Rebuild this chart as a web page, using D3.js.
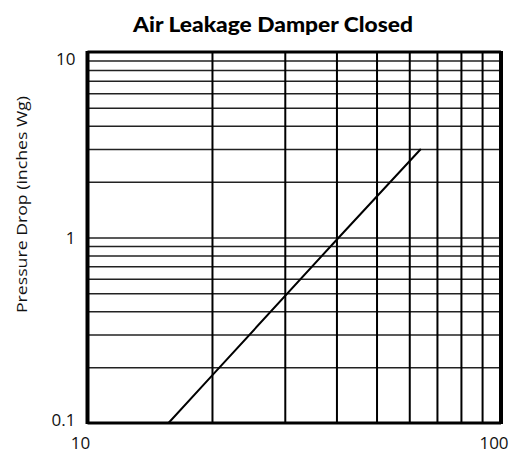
<!DOCTYPE html>
<html>
<head>
<meta charset="utf-8">
<script src="https://cdn.jsdelivr.net/npm/d3@7/dist/d3.min.js"></script>
<style>
  html, body { margin: 0; padding: 0; background: #fff; }
  svg { display: block; }
</style>
</head>
<body>
<script>
// Leakage curve: airflow (cfm) vs pressure drop (in. w.g.)
const flow = [15.7, 20, 40, 64];
const pressure = [0.1, 0.18, 0.97, 3.0];

// Axis labels and grid positions
const xTickLabels = [10, 100];
const yTickLabels = [0.1, 1, 10];
const xGrid = [20, 30, 40, 50, 60, 70, 80, 90];
const yGrid = [0.2, 0.3, 0.4, 0.5, 0.6, 0.7, 0.8, 0.9, 1, 2, 3, 4, 5, 6, 7, 8, 9];

const W = 513, H = 457;
const m = { left: 87.5, right: 12, top: 52, bottom: 34 };
const iw = W - m.left - m.right, ih = H - m.top - m.bottom;

const svg = d3.select("body").append("svg").attr("width", W).attr("height", H);

const x = d3.scaleLog().domain([10, 100]).range([0, iw]);
const y = d3.scaleLog().domain([0.1, 10]).range([ih, 0]);

const g = svg.append("g").attr("transform", `translate(${m.left},${m.top})`);

// Horizontal grid
g.append("g")
  .call(d3.axisLeft(y).tickValues(yGrid).tickSize(-iw).tickFormat(""))
  .call(s => s.select(".domain").remove())
  .call(s => s.selectAll("line").attr("stroke", "#222").attr("stroke-width", 1.5));

// Vertical grid
g.append("g")
  .attr("transform", `translate(0,${ih})`)
  .call(d3.axisBottom(x).tickValues(xGrid).tickSize(-ih).tickFormat(""))
  .call(s => s.select(".domain").remove())
  .call(s => s.selectAll("line").attr("stroke", "#000").attr("stroke-width", 2));

// Frame
g.append("line").attr("x1", 0).attr("x2", 0).attr("y1", -1).attr("y2", ih + 1).attr("stroke", "#000").attr("stroke-width", 4);
g.append("line").attr("x1", iw).attr("x2", iw).attr("y1", -1).attr("y2", ih + 1).attr("stroke", "#000").attr("stroke-width", 4);
g.append("line").attr("x1", 0).attr("x2", iw).attr("y1", 0).attr("y2", 0).attr("stroke", "#000").attr("stroke-width", 3);
g.append("line").attr("x1", 0).attr("x2", iw).attr("y1", ih).attr("y2", ih).attr("stroke", "#000").attr("stroke-width", 3);

// Data line
const pts = flow.map((f, i) => [f, pressure[i]]);
g.append("path")
  .datum(pts)
  .attr("fill", "none")
  .attr("stroke", "#000")
  .attr("stroke-width", 2)
  .attr("d", d3.line().x(d => x(d[0])).y(d => y(d[1])));

// Tick labels (end labels nudged inward toward the plot)
const labFont = "'Open Sans', 'Liberation Sans', sans-serif";
const yNudge = v => v === 10 ? 7 : (v === 0.1 ? -3.5 : 0);
g.append("g").selectAll("text").data(yTickLabels).join("text")
  .attr("x", -12).attr("y", d => y(d) + yNudge(d)).attr("dy", "0.36em")
  .attr("text-anchor", "end")
  .attr("font-family", labFont).attr("font-size", 17).attr("fill", "#111")
  .text(d => d);

g.append("g").selectAll("text").data(xTickLabels).join("text")
  .attr("x", d => x(d) - 7).attr("y", ih + 26)
  .attr("text-anchor", "middle")
  .attr("font-family", labFont).attr("font-size", 17).attr("fill", "#111")
  .text(d => d);

// Y axis title
svg.append("text")
  .attr("transform", "translate(27,204.5) rotate(-90)")
  .attr("text-anchor", "middle")
  .attr("font-family", labFont).attr("font-size", 15).attr("fill", "#111")
  .attr("textLength", 217).attr("lengthAdjust", "spacingAndGlyphs")
  .text("Pressure Drop (inches Wg)");

// Chart title
svg.append("text")
  .attr("x", 273).attr("y", 32)
  .attr("text-anchor", "middle")
  .attr("font-family", "Lato, 'Liberation Sans', sans-serif").attr("font-weight", 900)
  .attr("font-size", 21).attr("fill", "#000")
  .attr("textLength", 280).attr("lengthAdjust", "spacingAndGlyphs")
  .text("Air Leakage Damper Closed");
</script>
</body>
</html>
